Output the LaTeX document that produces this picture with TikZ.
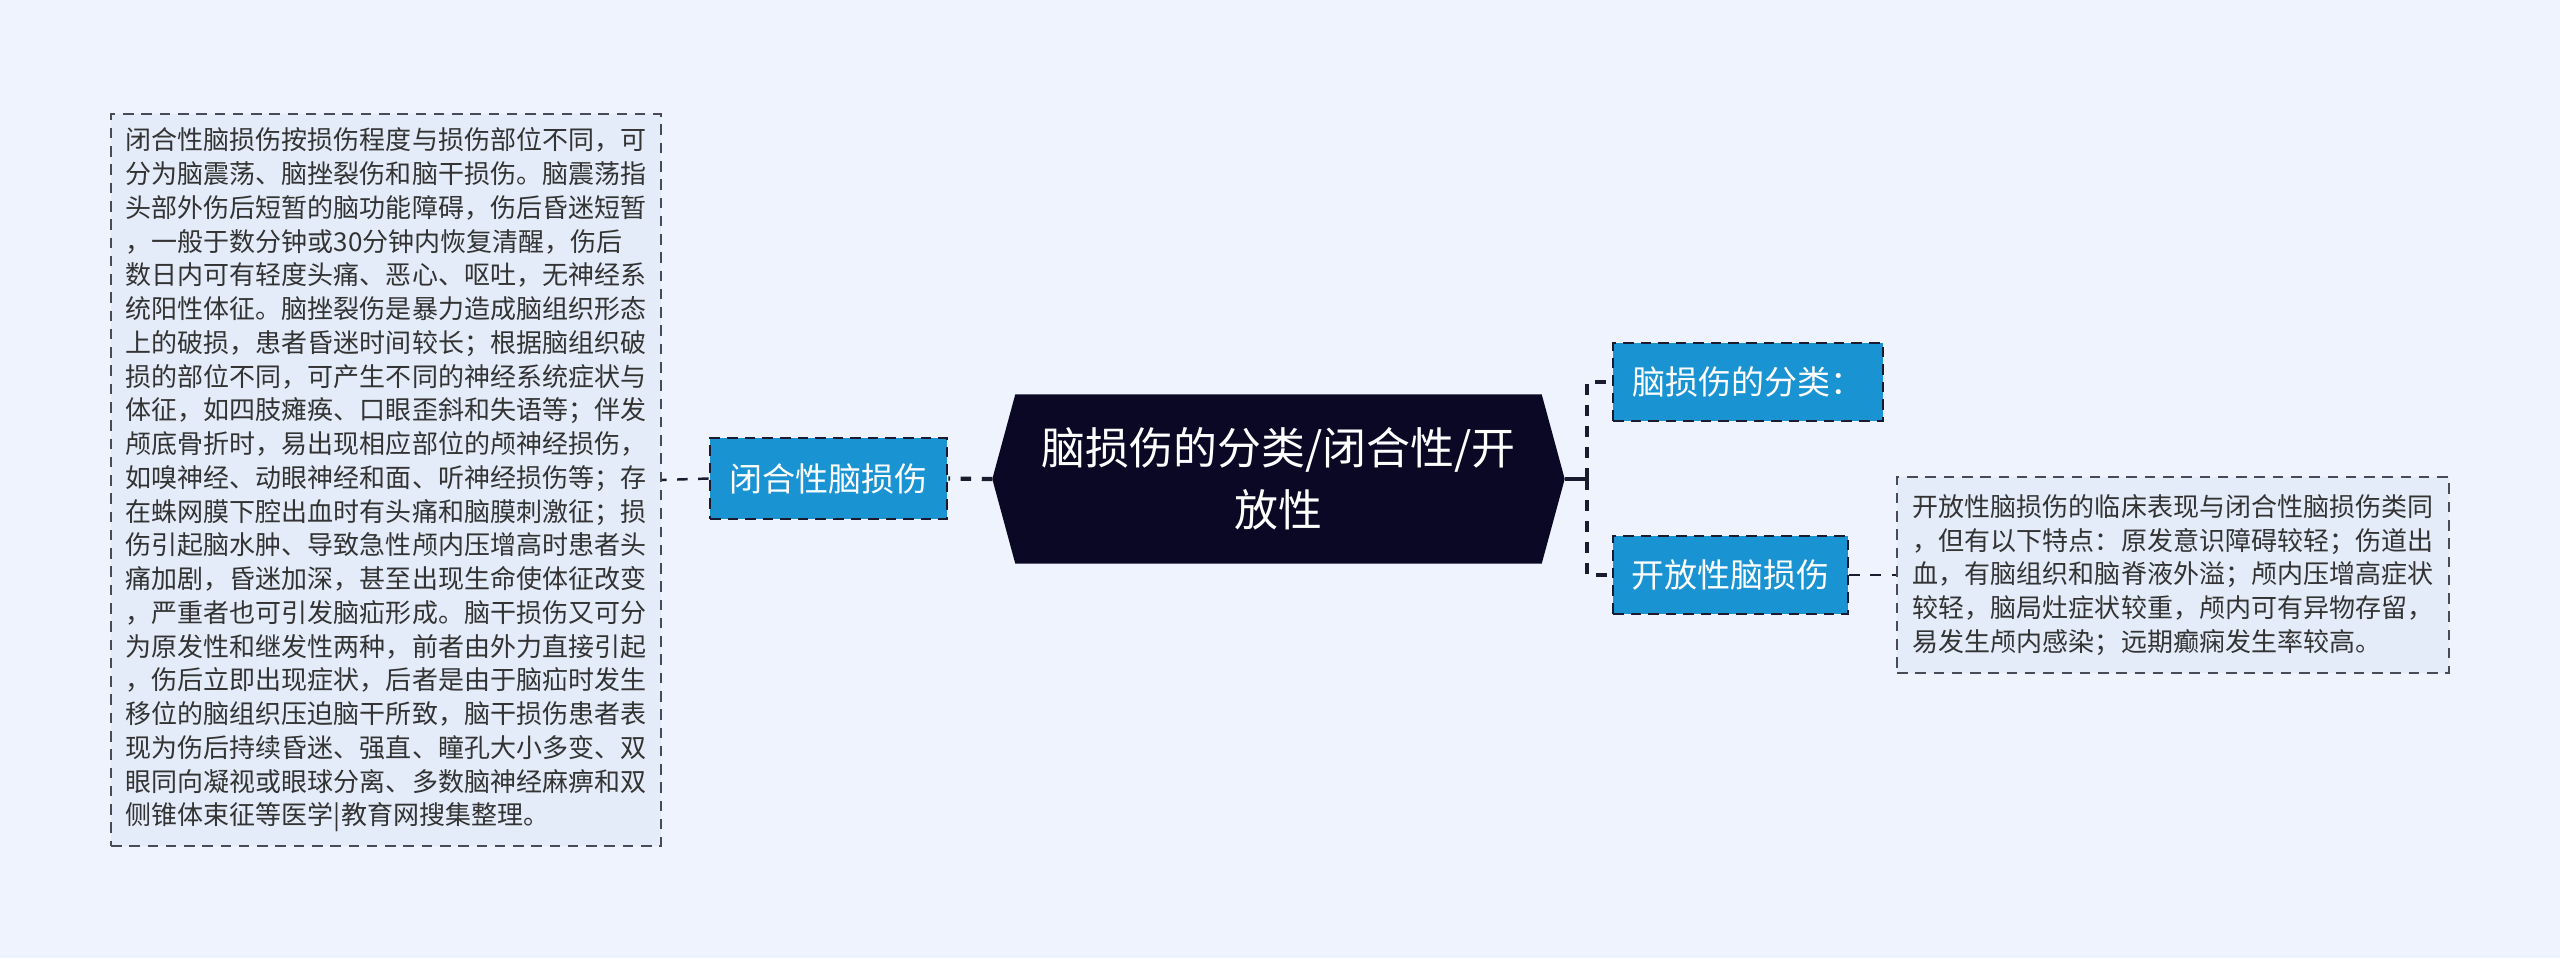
\documentclass[tikz,border=0pt]{standalone}
\usepackage{fontspec}
\setmainfont{Noto Sans CJK SC}
\usetikzlibrary{calc,positioning}
\definecolor{bgcol}{HTML}{EEF3FD}
\definecolor{topicblue}{HTML}{1A93D3}
\definecolor{rootnavy}{HTML}{0B0826}
\definecolor{notefill}{HTML}{E4ECF9}
\definecolor{linecol}{HTML}{1B1B2F}
\definecolor{txtcol}{HTML}{333333}
\tikzstyle{topic}=[fill=topicblue, draw=linecol, line width=0.75pt, dash pattern=on 3pt off 2pt, text=white, inner sep=0pt, font=\fontsize{9.4pt}{11pt}\selectfont]
\tikzstyle{note}=[fill=notefill, draw=linecol!80, line width=0.55pt, dash pattern=on 3pt off 2.2pt, text=txtcol, align=left, inner sep=0pt, font=\fontsize{7.4pt}{9.6pt}\selectfont]
\tikzstyle{link}=[draw=linecol, line width=1.2pt]

\begin{document}
\begin{tikzpicture}
\fill[bgcol] (0,0) rectangle (25.6,-9.58);
\useasboundingbox (0,0) rectangle (25.6,-9.58);

% root
\node (root) [minimum width=5.71cm, minimum height=1.68cm, inner sep=0pt] at (12.785,-4.79) {};
\fill[rootnavy] (root.west) -- ([xshift=0.23cm]root.north west) -- ([xshift=-0.23cm]root.north east) -- (root.east) -- ([xshift=-0.23cm]root.south east) -- ([xshift=0.23cm]root.south west) -- cycle;
\node (roottxt) [text=white, align=center, font=\fontsize{12.5pt}{17.6pt}\selectfont] at (root.center) {脑损伤的分类/闭合性/开\\放性};

% left branch
\node (closed) [topic, minimum width=2.37cm, minimum height=0.81cm] at (8.285,-4.785) {闭合性脑损伤};
\node (closednote) [note, minimum width=5.50cm, minimum height=7.32cm] at (3.86,-4.80) {闭合性脑损伤按损伤程度与损伤部位不同，可\\
分为脑震荡、脑挫裂伤和脑干损伤。脑震荡指\\
头部外伤后短暂的脑功能障碍，伤后昏迷短暂\\
，一般于数分钟或30分钟内恢复清醒，伤后\\
数日内可有轻度头痛、恶心、呕吐，无神经系\\
统阳性体征。脑挫裂伤是暴力造成脑组织形态\\
上的破损，患者昏迷时间较长；根据脑组织破\\
损的部位不同，可产生不同的神经系统症状与\\
体征，如四肢瘫痪、口眼歪斜和失语等；伴发\\
颅底骨折时，易出现相应部位的颅神经损伤，\\
如嗅神经、动眼神经和面、听神经损伤等；存\\
在蛛网膜下腔出血时有头痛和脑膜刺激征；损\\
伤引起脑水肿、导致急性颅内压增高时患者头\\
痛加剧，昏迷加深，甚至出现生命使体征改变\\
，严重者也可引发脑疝形成。脑干损伤又可分\\
为原发性和继发性两种，前者由外力直接引起\\
，伤后立即出现症状，后者是由于脑疝时发生\\
移位的脑组织压迫脑干所致，脑干损伤患者表\\
现为伤后持续昏迷、强直、瞳孔大小多变、双\\
眼同向凝视或眼球分离、多数脑神经麻痹和双\\
侧锥体束征等医学|教育网搜集整理。};

% right branch
\node (kind) [topic, minimum width=2.70cm, minimum height=0.78cm] at (17.48,-3.82) {脑损伤的分类：};
\node (open) [topic, minimum width=2.35cm, minimum height=0.78cm] at (17.305,-5.75) {开放性脑损伤};
\node (opennote) [note, minimum width=5.52cm, minimum height=1.96cm] at (21.73,-5.75) {开放性脑损伤的临床表现与闭合性脑损伤类同\\
，但有以下特点：原发意识障碍较轻；伤道出\\
血，有脑组织和脑脊液外溢；颅内压增高症状\\
较轻，脑局灶症状较重，颅内可有异物存留，\\
易发生颅内感染；远期癫痫发生率较高。};

\coordinate (fork) at (15.87,-4.79);

\draw[link, dashed] (root.west) -- (closed.east);
\draw[link, dashed, line width=0.7pt] (closed.west) -- (closednote.east);
\draw[link] (root.east) -- (fork);
\draw[link, dashed] (fork) |- (kind.west);
\draw[link, dashed] (fork) |- (open.west);
\draw[link, dashed, line width=0.7pt] (open.east) -- (opennote.west);
\end{tikzpicture}
\end{document}
